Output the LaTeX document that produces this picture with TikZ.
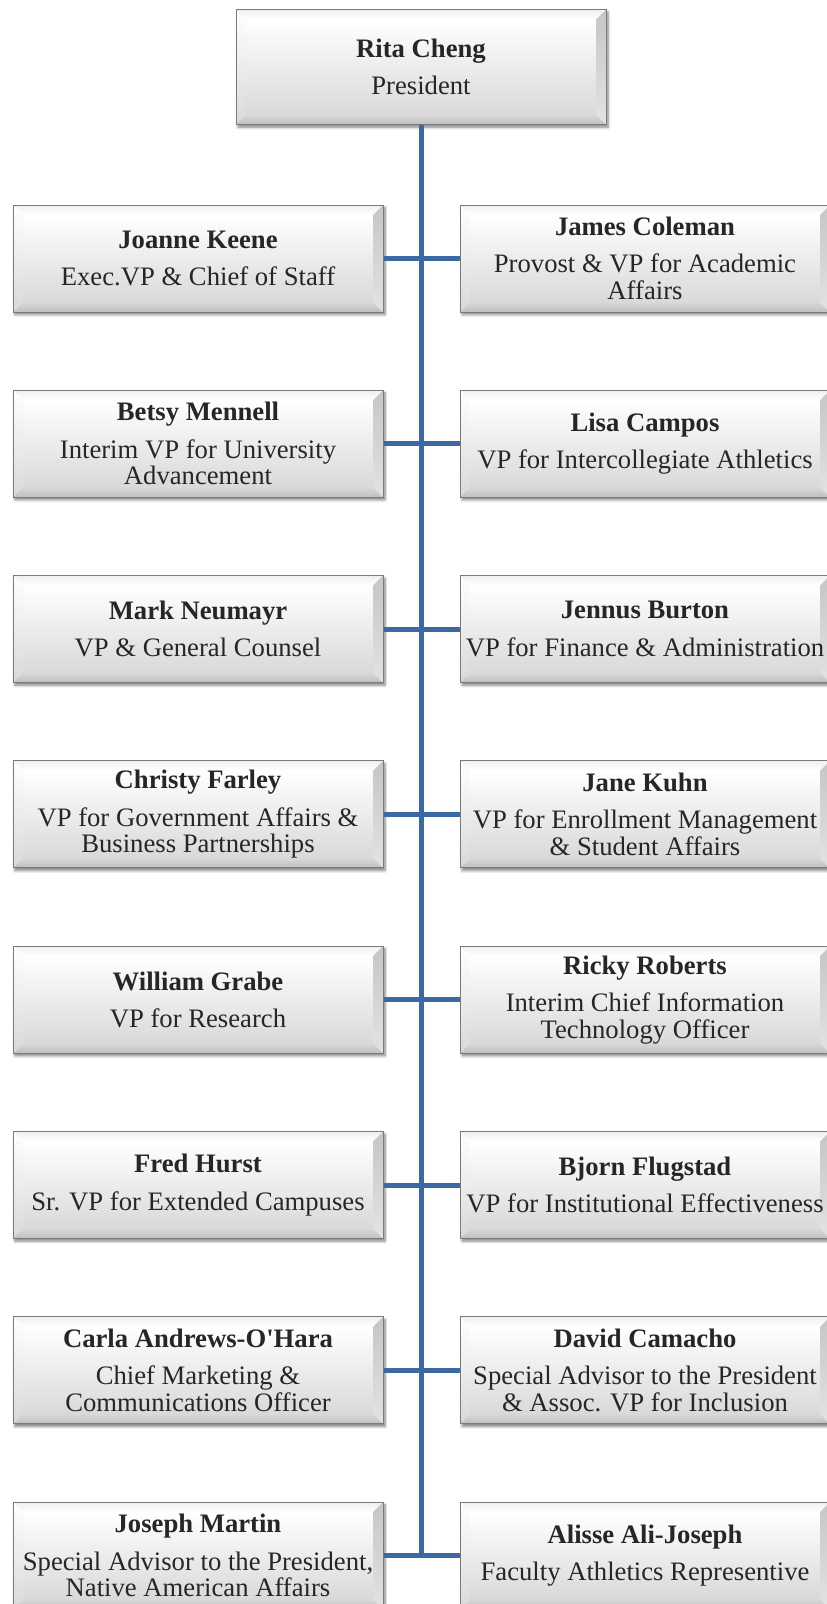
\documentclass[tikz,border=0pt]{standalone}
\usepackage{fontspec}
\setmainfont{Liberation Serif}
\usetikzlibrary{shadows.blur}
\definecolor{connblue}{HTML}{3C69A3}
\definecolor{txt}{HTML}{262626}
\definecolor{boxedge}{HTML}{7A7A7A}
\definecolor{facebot}{HTML}{D9D9D9}
\newcommand{\who}[2]{\textbf{#1}\\[8pt]#2}
\newcommand{\straightapos}{\XeTeXglyph\XeTeXcharglyph"27\relax}
\newcommand{\bvw}{7.5pt}
\tikzset{
  orgbox/.style={draw=boxedge, line width=0.75pt, minimum width=277.5pt,
    minimum height=80.25pt, inner sep=0pt, align=center, text=txt,
    font=\fontsize{20}{20}\selectfont, fill=white,
    blur shadow={shadow xshift=1.5pt, shadow yshift=-2pt, shadow blur steps=6,
      shadow blur radius=2pt, shadow opacity=50},
    path picture={
      \coordinate (oSW) at (path picture bounding box.south west);
      \coordinate (oNE) at (path picture bounding box.north east);
      \coordinate (oNW) at (path picture bounding box.north west);
      \coordinate (oSE) at (path picture bounding box.south east);
      \coordinate (iSW) at ([shift={(\bvw,\bvw)}]oSW);
      \coordinate (iNE) at ([shift={(-\bvw,-\bvw)}]oNE);
      \coordinate (iNW) at ([shift={(\bvw,-\bvw)}]oNW);
      \coordinate (iSE) at ([shift={(-\bvw,\bvw)}]oSE);
      \shade[top color=white, bottom color=facebot] (iSW) rectangle (iNE);
      \shade[top color=gray!12, bottom color=white] (oNW) -- (oNE) -- (iNE) -- (iNW) -- cycle;
      \shade[top color=white, bottom color=gray!30] (oNW) -- (iNW) -- (iSW) -- (oSW) -- cycle;
      \shade[top color=gray!45, bottom color=gray!22] (oNE) -- (oSE) -- (iSE) -- (iNE) -- cycle;
      \shade[top color=gray!30, bottom color=gray!50] (oSW) -- (iSW) -- (iSE) -- (oSE) -- cycle;
    }},
  topbox/.style={orgbox, minimum height=86.25pt},
  conn/.style={draw=connblue, line width=3.75pt},
}
\begin{document}
\begin{tikzpicture}[x=0.75pt, y=-0.75pt]
\useasboundingbox (0,0) rectangle (827,1604);
\node[topbox] (pres) at (421,67) {\who{Rita Cheng}{President}};

\node[orgbox] (L1) at (198,258.5) {\who{Joanne Keene}{Exec.VP \& Chief of Staff}};
\node[orgbox] (L2) at (198,443.8) {\who{Betsy Mennell}{Interim VP for University\\Advancement}};
\node[orgbox] (L3) at (198,629.1) {\who{Mark Neumayr}{VP \& General Counsel}};
\node[orgbox] (L4) at (198,814.4) {\who{Christy Farley}{VP for Government Affairs \&\\Business Partnerships}};
\node[orgbox] (L5) at (198,999.7) {\who{William Grabe}{VP for Research}};
\node[orgbox] (L6) at (198,1185) {\who{Fred Hurst}{Sr. VP for Extended Campuses}};
\node[orgbox] (L7) at (198,1370.3) {\who{Carla Andrews-O\straightapos Hara}{Chief Marketing \&\\Communications Officer}};
\node[orgbox] (L8) at (198,1555.6) {\who{Joseph Martin}{Special Advisor to the President,\\Native American Affairs}};

\node[orgbox] (R1) at (645,258.5) {\who{James Coleman}{Provost \& VP for Academic\\Affairs}};
\node[orgbox] (R2) at (645,443.8) {\who{Lisa Campos}{VP for Intercollegiate Athletics}};
\node[orgbox] (R3) at (645,629.1) {\who{Jennus Burton}{VP for Finance \& Administration}};
\node[orgbox] (R4) at (645,814.4) {\who{Jane Kuhn}{VP for Enrollment Management\\\& Student Affairs}};
\node[orgbox] (R5) at (645,999.7) {\who{Ricky Roberts}{Interim Chief Information\\Technology Officer}};
\node[orgbox] (R6) at (645,1185) {\who{Bjorn Flugstad}{VP for Institutional Effectiveness}};
\node[orgbox] (R7) at (645,1370.3) {\who{David Camacho}{Special Advisor to the President\\\& Assoc. VP for Inclusion}};
\node[orgbox] (R8) at (645,1555.6) {\who{Alisse Ali-Joseph}{Faculty Athletics Representive}};

\draw[conn] (pres.south) -- (pres.south |- L8.east);
\foreach \i in {1,...,8} {
  \draw[conn] (L\i.east) -- (R\i.west);
}
\end{tikzpicture}
\end{document}
